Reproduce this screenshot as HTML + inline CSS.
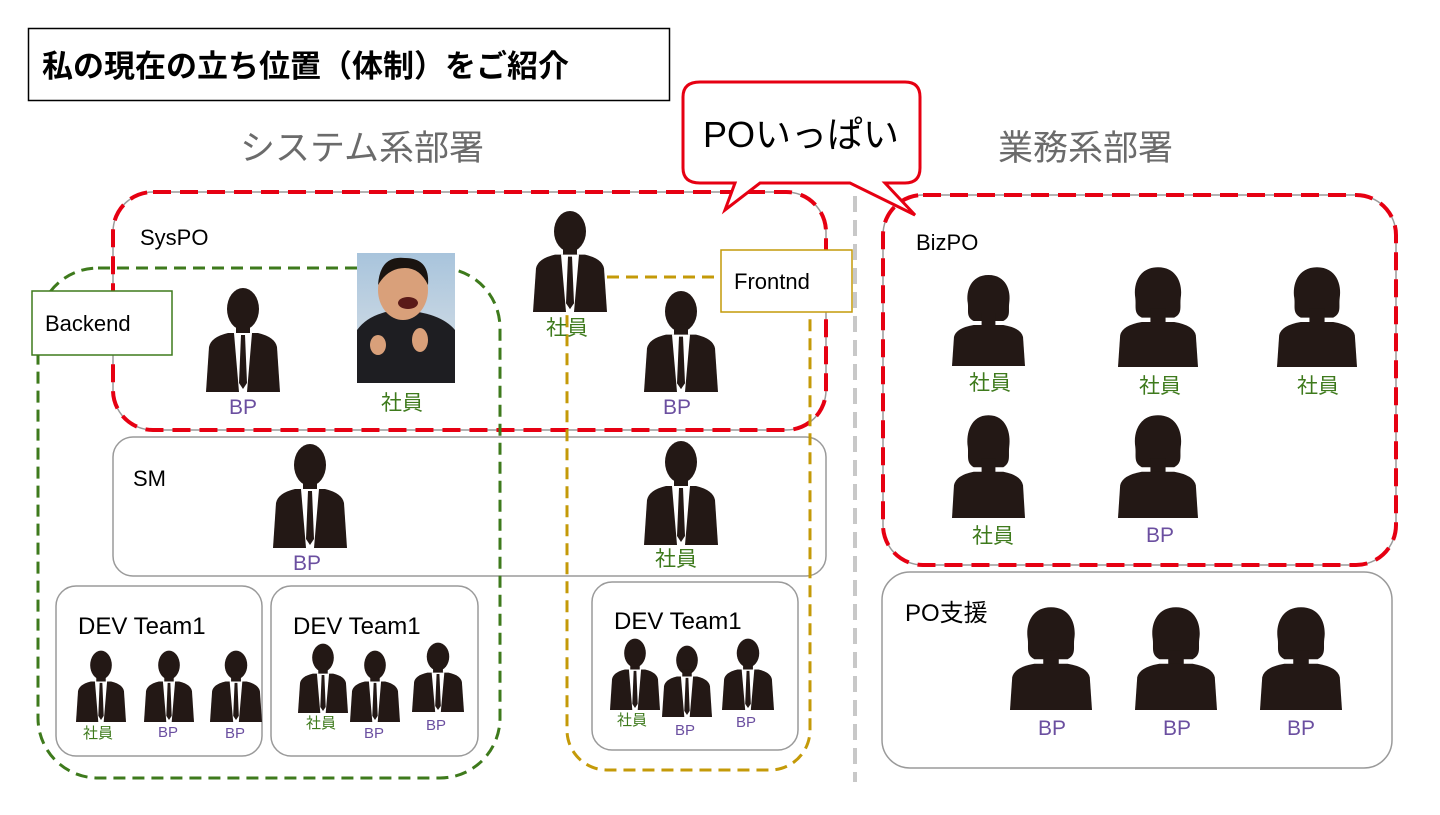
<!DOCTYPE html>
<html><head><meta charset="utf-8"><style>
body{margin:0;background:#fff;}
svg text{font-family:"Liberation Sans","Noto Sans CJK JP",sans-serif;}
</style></head><body>
<svg width="1440" height="810" viewBox="0 0 1440 810" xmlns="http://www.w3.org/2000/svg">
<defs>
<symbol id="m" viewBox="0 0 74 105" preserveAspectRatio="none">
<ellipse cx="37" cy="22" rx="16" ry="21" fill="#231815"/>
<rect x="30" y="36" width="14" height="14" fill="#231815"/>
<path d="M0 105 L3 60 Q5 50 22 46 L52 46 Q69 50 71 60 L74 105Z" fill="#231815"/>
<path d="M28 46 L46 46 L41 105 L33 105Z" fill="#fff"/>
<path d="M35 48 L39 48 L41 96 L37 102 L33 96Z" fill="#231815"/>
</symbol>
<symbol id="f" viewBox="0 0 74 93" preserveAspectRatio="none">
<path d="M37 2 C55 2 60 18 58 30 C57 38 60 44 52 48 L22 48 C14 44 17 38 16 30 C14 18 19 2 37 2Z" fill="#231815"/>
<rect x="30" y="40" width="14" height="16" fill="#231815"/>
<path d="M0 93 L2 64 Q4 55 22 52 L52 52 Q70 55 72 64 L74 93Z" fill="#231815"/>
</symbol>
<linearGradient id="bg" x1="0" y1="0" x2="0" y2="1"><stop offset="0" stop-color="#a8c4dc"/><stop offset="1" stop-color="#dde3e8"/></linearGradient>
</defs>

<rect x="28.5" y="28.5" width="641" height="72" fill="#fff" stroke="#000" stroke-width="1.5"/>
<text x="42" y="77" font-size="31" font-weight="bold">私の現在の立ち位置（体制）をご紹介</text>

<text x="240" y="160" font-size="35" fill="#6b6b6b">システム系部署</text>
<text x="998" y="160" font-size="35" fill="#6b6b6b">業務系部署</text>

<line x1="855" y1="196" x2="855" y2="782" stroke="#c8c8c8" stroke-width="4" stroke-dasharray="16,8"/>

<rect x="113" y="192" width="713" height="238" rx="40" fill="none" stroke="#9a9a9a" stroke-width="1.5"/>
<rect x="113" y="192" width="713" height="238" rx="40" fill="none" stroke="#e60012" stroke-width="4" stroke-dasharray="18,9"/>
<text x="140" y="245" font-size="22">SysPO</text>

<rect x="113" y="437" width="713" height="139" rx="20" fill="none" stroke="#9a9a9a" stroke-width="1.5"/>
<text x="133" y="486" font-size="22">SM</text>

<rect x="38" y="268" width="462" height="510" rx="60" fill="none" stroke="#3e7a1c" stroke-width="3" stroke-dasharray="12,7"/>
<rect x="32" y="291" width="140" height="64" fill="#fff" stroke="#3e7a1c" stroke-width="1.5"/>
<text x="45" y="331" font-size="22">Backend</text>

<rect x="567" y="277" width="243" height="493" rx="40" fill="none" stroke="#c49a08" stroke-width="3" stroke-dasharray="12,7"/>
<rect x="721" y="250" width="131" height="62" fill="#fff" stroke="#c49a08" stroke-width="1.5"/>
<text x="734" y="289" font-size="22">Frontnd</text>

<rect x="56" y="586" width="206" height="170" rx="20" fill="#fff" stroke="#9a9a9a" stroke-width="1.5"/>
<rect x="271" y="586" width="207" height="170" rx="20" fill="#fff" stroke="#9a9a9a" stroke-width="1.5"/>
<rect x="592" y="582" width="206" height="168" rx="20" fill="#fff" stroke="#9a9a9a" stroke-width="1.5"/>
<text x="78" y="634" font-size="24">DEV Team1</text>
<text x="293" y="634" font-size="24">DEV Team1</text>
<text x="614" y="629" font-size="24">DEV Team1</text>

<rect x="883" y="195" width="513" height="370" rx="40" fill="none" stroke="#9a9a9a" stroke-width="1.5"/>
<rect x="883" y="195" width="513" height="370" rx="40" fill="none" stroke="#e60012" stroke-width="4" stroke-dasharray="18,9"/>
<text x="916" y="250" font-size="22">BizPO</text>

<rect x="882" y="572" width="510" height="196" rx="28" fill="none" stroke="#9a9a9a" stroke-width="1.5"/>
<text x="905" y="621" font-size="24">PO支援</text>

<path d="M700 82 L905 82 Q920 82 920 97 L920 168 Q920 183 905 183 L885 183 L915 215 L850 183 L760 183 L725 210 L735 183 L700 183 Q683 183 683 168 L683 97 Q683 82 700 82Z" fill="#fff" stroke="#e60012" stroke-width="3"/>
<text x="703" y="147" font-size="36">POいっぱい</text>

<rect x="357" y="253" width="98" height="130" fill="url(#bg)"/>
<path d="M357 383 L357 330 Q370 312 400 310 Q440 312 455 330 L455 383Z" fill="#1e1e22"/>
<ellipse cx="403" cy="290" rx="25" ry="30" fill="#d9a07a"/>
<path d="M378 285 Q380 255 405 258 Q430 258 428 285 Q420 268 405 268 Q388 268 378 285Z" fill="#1a1410"/>
<ellipse cx="408" cy="303" rx="10" ry="6" fill="#5a1a18"/>
<ellipse cx="378" cy="345" rx="8" ry="10" fill="#d9a07a"/>
<ellipse cx="420" cy="340" rx="8" ry="12" fill="#d9a07a"/>

<use href="#m" x="206" y="287" width="74" height="105"/>
<use href="#m" x="533" y="210" width="74" height="102"/>
<use href="#m" x="644" y="290" width="74" height="102"/>
<use href="#m" x="273" y="443" width="74" height="105"/>
<use href="#m" x="644" y="440" width="74" height="105"/>
<use href="#m" x="76" y="650" width="50" height="72"/>
<use href="#m" x="144" y="650" width="50" height="72"/>
<use href="#m" x="210" y="650" width="52" height="72"/>
<use href="#m" x="298" y="643" width="50" height="70"/>
<use href="#m" x="350" y="650" width="50" height="72"/>
<use href="#m" x="412" y="642" width="52" height="70"/>
<use href="#m" x="610" y="638" width="50" height="72"/>
<use href="#m" x="662" y="645" width="50" height="72"/>
<use href="#m" x="722" y="638" width="52" height="72"/>

<use href="#f" x="952" y="273" width="73" height="93"/>
<use href="#f" x="1118" y="265" width="80" height="102"/>
<use href="#f" x="1277" y="265" width="80" height="102"/>
<use href="#f" x="952" y="413" width="73" height="105"/>
<use href="#f" x="1118" y="413" width="80" height="105"/>
<use href="#f" x="1010" y="605" width="82" height="105"/>
<use href="#f" x="1135" y="605" width="82" height="105"/>
<use href="#f" x="1260" y="605" width="82" height="105"/>

<g font-size="21" text-anchor="middle">
<text x="243" y="414" fill="#6b4fa0">BP</text>
<text x="402" y="410" fill="#3e7a1c">社員</text>
<text x="567" y="335" fill="#3e7a1c">社員</text>
<text x="677" y="414" fill="#6b4fa0">BP</text>
<text x="307" y="570" fill="#6b4fa0">BP</text>
<text x="676" y="566" fill="#3e7a1c">社員</text>
<text x="990" y="390" fill="#3e7a1c">社員</text>
<text x="1160" y="393" fill="#3e7a1c">社員</text>
<text x="1318" y="393" fill="#3e7a1c">社員</text>
<text x="993" y="543" fill="#3e7a1c">社員</text>
<text x="1160" y="542" fill="#6b4fa0">BP</text>
<text x="1052" y="735" fill="#6b4fa0">BP</text>
<text x="1177" y="735" fill="#6b4fa0">BP</text>
<text x="1301" y="735" fill="#6b4fa0">BP</text>
</g>
<g font-size="15" text-anchor="middle">
<text x="98" y="738" fill="#3e7a1c">社員</text>
<text x="168" y="737" fill="#6b4fa0">BP</text>
<text x="235" y="738" fill="#6b4fa0">BP</text>
<text x="321" y="728" fill="#3e7a1c">社員</text>
<text x="374" y="738" fill="#6b4fa0">BP</text>
<text x="436" y="730" fill="#6b4fa0">BP</text>
<text x="632" y="725" fill="#3e7a1c">社員</text>
<text x="685" y="735" fill="#6b4fa0">BP</text>
<text x="746" y="727" fill="#6b4fa0">BP</text>
</g>
</svg>
</body></html>
